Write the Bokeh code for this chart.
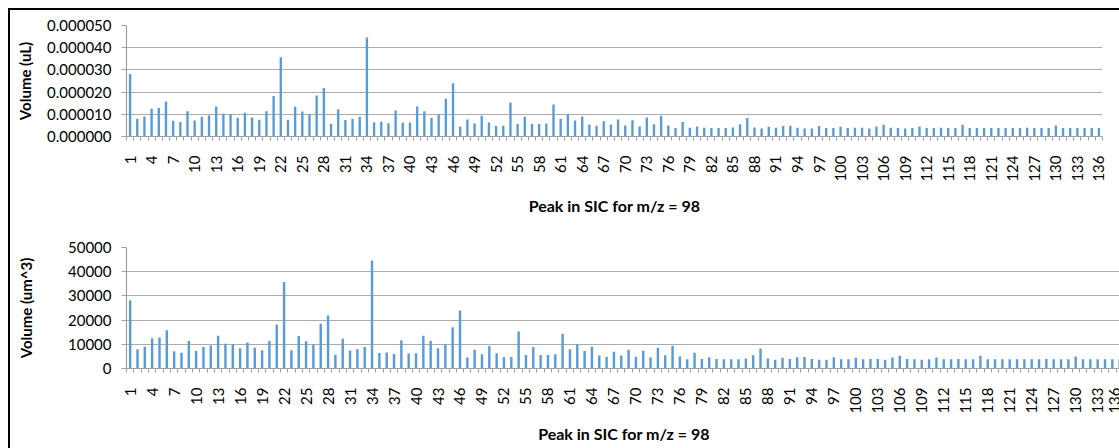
import math
from bokeh.plotting import figure
from bokeh.layouts import column
from bokeh.models import FixedTicker, PrintfTickFormatter, Range1d, ColumnDataSource
from bokeh.embed import file_html
from bokeh.resources import INLINE

# ---------------- data ----------------
peaks = list(range(1, 137))
x_tick_labels = [str(i) for i in range(1, 137, 3)]

volume_uL = [
    2.81e-5, 0.80e-5, 0.90e-5, 1.25e-5, 1.28e-5, 1.58e-5, 0.71e-5, 0.65e-5, 1.14e-5, 0.72e-5,
    0.89e-5, 0.95e-5, 1.35e-5, 1.02e-5, 1.00e-5, 0.84e-5, 1.07e-5, 0.86e-5, 0.75e-5, 1.14e-5,
    1.82e-5, 3.57e-5, 0.75e-5, 1.34e-5, 1.13e-5, 0.99e-5, 1.85e-5, 2.19e-5, 0.57e-5, 1.23e-5,
    0.74e-5, 0.80e-5, 0.89e-5, 4.46e-5, 0.64e-5, 0.66e-5, 0.60e-5, 1.17e-5, 0.62e-5, 0.63e-5,
    1.35e-5, 1.14e-5, 0.84e-5, 0.99e-5, 1.70e-5, 2.40e-5, 0.45e-5, 0.77e-5, 0.59e-5, 0.93e-5,
    0.63e-5, 0.47e-5, 0.48e-5, 1.53e-5, 0.56e-5, 0.89e-5, 0.56e-5, 0.56e-5, 0.59e-5, 1.44e-5,
    0.80e-5, 0.99e-5, 0.72e-5, 0.90e-5, 0.54e-5, 0.48e-5, 0.69e-5, 0.54e-5, 0.77e-5, 0.49e-5,
    0.73e-5, 0.45e-5, 0.86e-5, 0.55e-5, 0.94e-5, 0.50e-5, 0.38e-5, 0.65e-5, 0.39e-5, 0.45e-5,
    0.39e-5, 0.38e-5, 0.38e-5, 0.38e-5, 0.41e-5, 0.55e-5, 0.83e-5, 0.41e-5, 0.36e-5, 0.44e-5,
    0.39e-5, 0.47e-5, 0.48e-5, 0.39e-5, 0.36e-5, 0.36e-5, 0.47e-5, 0.38e-5, 0.38e-5, 0.44e-5,
    0.38e-5, 0.39e-5, 0.39e-5, 0.36e-5, 0.45e-5, 0.53e-5, 0.39e-5, 0.38e-5, 0.36e-5, 0.38e-5,
    0.45e-5, 0.38e-5, 0.38e-5, 0.39e-5, 0.38e-5, 0.38e-5, 0.53e-5, 0.38e-5, 0.38e-5, 0.38e-5,
    0.38e-5, 0.38e-5, 0.38e-5, 0.38e-5, 0.38e-5, 0.39e-5, 0.38e-5, 0.38e-5, 0.38e-5, 0.50e-5,
    0.38e-5, 0.38e-5, 0.38e-5, 0.38e-5, 0.38e-5, 0.38e-5,
]

volume_um3 = [
    28100, 8000, 9000, 12500, 12800, 15800, 7100, 6500, 11400, 7200,
    8900, 9500, 13500, 10200, 10000, 8400, 10700, 8600, 7500, 11400,
    18200, 35700, 7500, 13400, 11300, 9900, 18500, 21900, 5700, 12300,
    7400, 8000, 8900, 44600, 6400, 6600, 6000, 11700, 6200, 6300,
    13500, 11400, 8400, 9900, 17000, 24000, 4500, 7700, 5900, 9300,
    6300, 4700, 4800, 15300, 5600, 8900, 5600, 5600, 5900, 14400,
    8000, 9900, 7200, 9000, 5400, 4800, 6900, 5400, 7700, 4900,
    7300, 4500, 8600, 5500, 9400, 5000, 3800, 6500, 3900, 4500,
    3900, 3800, 3800, 3800, 4100, 5500, 8300, 4100, 3600, 4400,
    3900, 4700, 4800, 3900, 3600, 3600, 4700, 3800, 3800, 4400,
    3800, 3900, 3900, 3600, 4500, 5300, 3900, 3800, 3600, 3800,
    4500, 3800, 3800, 3900, 3800, 3800, 5300, 3800, 3800, 3800,
    3800, 3800, 3800, 3800, 3800, 3900, 3800, 3800, 3800, 5000,
    3800, 3800, 3800, 3800, 3800, 3800,
]

x_title = "Peak in SIC for m/z = 98"
y_title_top = "Volume (uL)"
y_title_bottom = "Volume (um^3)"
y_ticks_top = [0.0, 0.00001, 0.00002, 0.00003, 0.00004, 0.00005]
y_ticks_bottom = [0, 10000, 20000, 30000, 40000, 50000]

# ---------------- styles ----------------
FONT = "Lato"
BAR = "#5B9BD5"
GRID = "#ababab"
AXIS = "#a0a0a0"

label_positions = [int(s) for s in x_tick_labels]
minor_positions = [p - 0.5 for p in peaks] + [peaks[-1] + 0.5]


def style(p, ylabel, yticks, yfmt, ylab_standoff, xlab_standoff):
    p.toolbar.logo = None
    p.outline_line_color = None
    p.background_fill_color = "white"
    p.border_fill_color = "white"
    p.xgrid.grid_line_color = None
    p.ygrid.grid_line_color = GRID
    p.ygrid.grid_line_width = 1.2

    xa = p.xaxis[0]
    xa.ticker = FixedTicker(ticks=label_positions, minor_ticks=minor_positions)
    xa.major_label_overrides = {pos: lab for pos, lab in zip(label_positions, x_tick_labels)}
    xa.major_label_orientation = math.pi / 2
    xa.major_tick_out = 0
    xa.major_tick_in = 0
    xa.minor_tick_out = 4
    xa.minor_tick_in = 0
    xa.minor_tick_line_color = AXIS
    xa.axis_line_color = AXIS
    xa.axis_line_width = 1.2
    xa.major_label_standoff = 15
    xa.major_label_text_font = FONT
    xa.major_label_text_font_size = "15px"
    xa.major_label_text_color = "black"
    xa.axis_label = x_title
    xa.axis_label_standoff = xlab_standoff
    xa.axis_label_text_font = FONT
    xa.axis_label_text_font_style = "bold"
    xa.axis_label_text_font_size = "16px"
    xa.axis_label_text_color = "black"

    ya = p.yaxis[0]
    ya.ticker = FixedTicker(ticks=yticks, minor_ticks=[])
    ya.formatter = PrintfTickFormatter(format=yfmt)
    ya.major_tick_out = 5
    ya.major_tick_in = 0
    ya.major_tick_line_color = AXIS
    ya.axis_line_color = AXIS
    ya.axis_line_width = 1.2
    ya.major_label_standoff = 10
    ya.major_label_text_font = FONT
    ya.major_label_text_font_size = "15px"
    ya.major_label_text_color = "black"
    ya.axis_label = ylabel
    ya.axis_label_standoff = ylab_standoff
    ya.axis_label_text_font = FONT
    ya.axis_label_text_font_style = "bold"
    ya.axis_label_text_font_size = "15px"
    ya.axis_label_text_color = "black"


src_top = ColumnDataSource(dict(x=peaks, y=volume_uL))
p1 = figure(frame_width=976, frame_height=111, output_backend="svg", toolbar_location=None,
            x_range=Range1d(0.5, 136.5), y_range=Range1d(0, 0.00005),
            min_border_left=116, min_border_right=17, min_border_top=15, min_border_bottom=89)
p1.vbar(x="x", top="y", width=0.33, source=src_top, fill_color=BAR, line_color=None)
style(p1, y_title_top, y_ticks_top, "%.6f", 10, 11)

src_bot = ColumnDataSource(dict(x=peaks, y=volume_um3))
p2 = figure(frame_width=995, frame_height=121, output_backend="svg", toolbar_location=None,
            x_range=Range1d(0.5, 136.25), y_range=Range1d(0, 50000),
            min_border_left=114, min_border_right=0, min_border_top=22, min_border_bottom=80)
p2.vbar(x="x", top="y", width=0.33, source=src_bot, fill_color=BAR, line_color=None)
style(p2, y_title_bottom, y_ticks_bottom, "%d", 30, 7)

layout = column(p1, p2, spacing=0, margin=(8, 0, 0, 8),
                styles={"border-top": "2px solid black", "border-left": "2px solid black"})

open("out.html", "w").write(file_html(layout, INLINE))
